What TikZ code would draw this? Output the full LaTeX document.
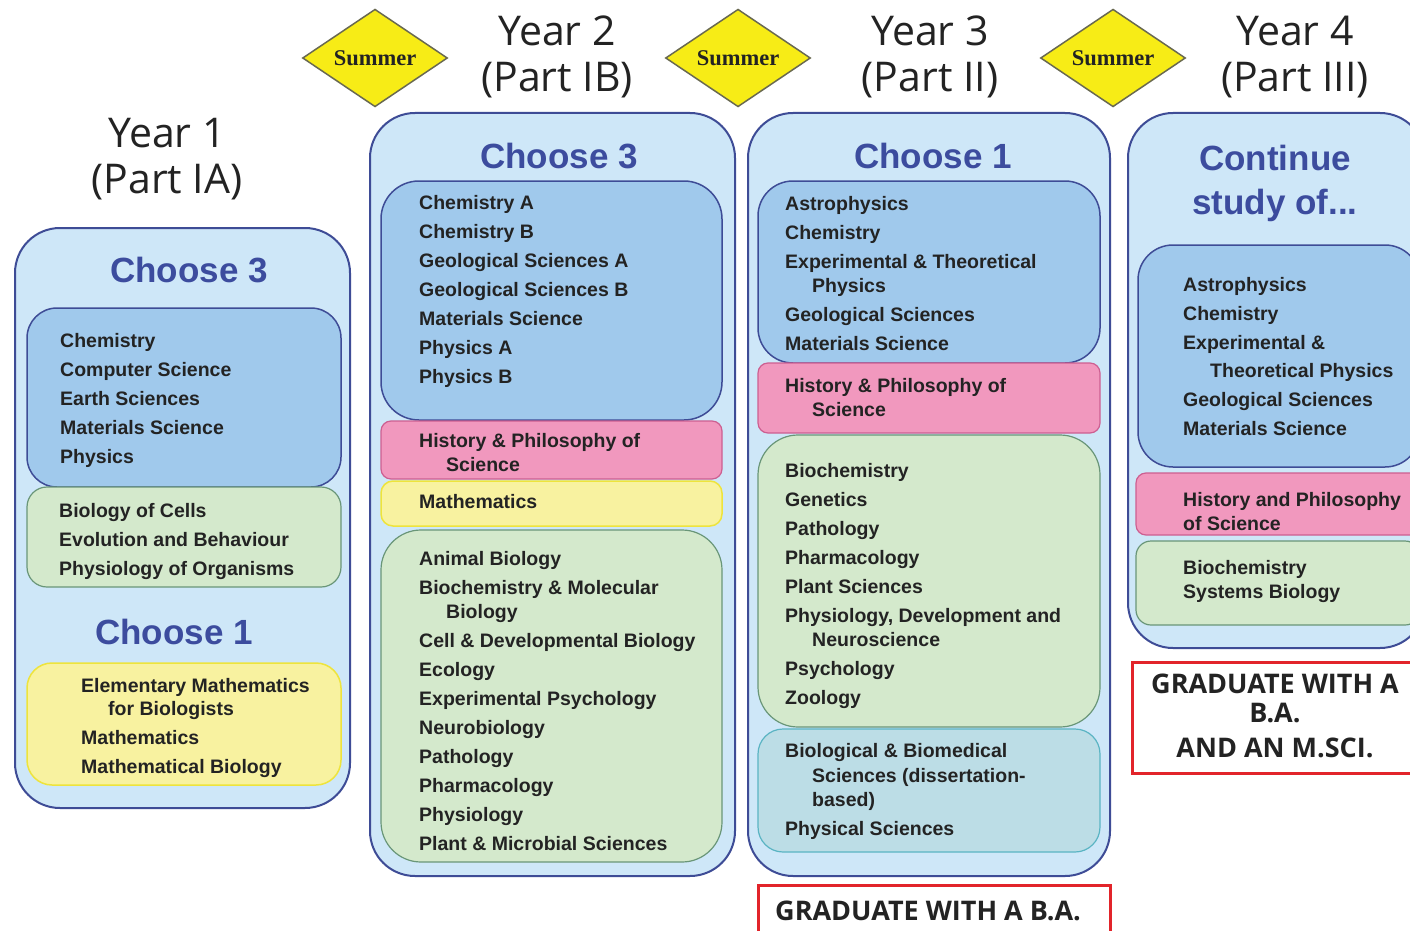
\documentclass[tikz,border=0pt]{standalone}
\usepackage{fontspec}
\setmainfont{Liberation Sans}
\newfontfamily\comicfont{Open Sans}
\newfontfamily\summerfont{Liberation Serif}
\usetikzlibrary{shapes.geometric}
\definecolor{outerfill}{RGB}{206,231,248}
\definecolor{outerline}{RGB}{62,76,150}
\definecolor{bluefill}{RGB}{160,201,236}
\definecolor{greenfill}{RGB}{212,233,204}
\definecolor{greenline}{RGB}{105,150,120}
\definecolor{pinkfill}{RGB}{241,152,190}
\definecolor{pinkline}{RGB}{205,95,145}
\definecolor{yellowfill}{RGB}{248,242,160}
\definecolor{yellowline}{RGB}{238,228,60}
\definecolor{tealfill}{RGB}{188,221,230}
\definecolor{tealline}{RGB}{90,180,195}
\definecolor{summerfill}{RGB}{247,236,22}
\definecolor{summerline}{RGB}{105,105,80}
\definecolor{gradred}{RGB}{226,36,42}
\definecolor{headblue}{RGB}{60,76,158}
\definecolor{txt}{RGB}{35,35,35}
\newcommand{\ind}{\hspace*{27pt}}
\begin{document}
\begin{tikzpicture}[x=1pt,y=-1pt,
  outerbox/.style={draw=outerline, line width=2pt, fill=outerfill, rounded corners=45pt, inner sep=0},
  bluebox/.style={draw=outerline, line width=1.5pt, fill=bluefill, rounded corners=34pt, inner sep=0},
  greenbox/.style={draw=greenline, line width=1.2pt, fill=greenfill, rounded corners=20pt, inner sep=0},
  pinkbox/.style={draw=pinkline, line width=1.2pt, fill=pinkfill, rounded corners=10pt, inner sep=0},
  yellowbox/.style={draw=yellowline, line width=1.5pt, fill=yellowfill, rounded corners=12pt, inner sep=0},
  tealbox/.style={draw=tealline, line width=1.2pt, fill=tealfill, rounded corners=25pt, inner sep=0},
  gradbox/.style={draw=gradred, line width=3pt, fill=white, inner sep=0},
  summer/.style={diamond, draw=summerline, line width=1.5pt, fill=summerfill, inner sep=0,
    minimum width=145, minimum height=96, font=\summerfont\bfseries\fontsize{22.5}{26}\selectfont, text=txt},
  itemlist/.style={anchor=base west, align=left, inner sep=0, font=\bfseries\fontsize{19.5}{29}\selectfont, text=txt},
  heading/.style={anchor=base, align=center, inner sep=0, font=\bfseries\fontsize{35}{44}\selectfont, text=headblue},
  yeartitle/.style={anchor=base, align=center, inner sep=0, font=\comicfont\fontsize{41}{46}\selectfont, text=txt},
  gradtext/.style={inner sep=0, font=\comicfont\bfseries\fontsize{27}{29}\selectfont, text=txt},
]
% note: for multi-line nodes the "base" anchor is the baseline of the LAST line
\useasboundingbox (0,0) rectangle (1410,931);
\clip (0,0) rectangle (1410,931);
\fill[white] (0,0) rectangle (1410,931);

% ---------- Summer diamonds ----------
\node[summer] (s1) at (375,58) {Summer};
\node[summer] (s2) at (738,58) {Summer};
\node[summer] (s3) at (1113,58) {Summer};

% ---------- Year 1 ----------
\node[yeartitle] (t1) at (167,193) {Year 1\\(Part IA)};
\node[outerbox, minimum width=335, minimum height=580] (c1) at (182.5,518) {};
\node[bluebox, rounded corners=30pt, minimum width=314, minimum height=179] (c1b) at (184,397.5) {};
\node[greenbox, minimum width=314, minimum height=100] (c1g) at (184,537) {};
\node[yellowbox, rounded corners=25pt, minimum width=314, minimum height=122] (c1y) at (184,724) {};
\node[heading] (h1a) at (189,282) {Choose 3};
\node[heading] (h1b) at (174,644) {Choose 1};
\node[itemlist] (l1b) at (60,463) {Chemistry\\Computer Science\\Earth Sciences\\Materials Science\\Physics};
\node[itemlist] (l1g) at (59,575) {Biology of Cells\\Evolution and Behaviour\\Physiology of Organisms};
\node[itemlist] (l1y) at (81,773) {Elementary Mathematics\\[-6pt]\ind for Biologists\\Mathematics\\Mathematical Biology};

% ---------- Year 2 ----------
\node[yeartitle] (t2) at (557,92) {Year 2\\(Part IB)};
\node[outerbox, minimum width=365, minimum height=763] (c2) at (552.5,494.5) {};
\node[bluebox, rounded corners=38pt, minimum width=341, minimum height=239] (c2b) at (551.5,300.5) {};
\node[pinkbox, minimum width=341, minimum height=58] (c2p) at (551.5,450) {};
\node[yellowbox, minimum width=341, minimum height=45] (c2y) at (551.5,503.5) {};
\node[greenbox, rounded corners=40pt, minimum width=341, minimum height=332] (c2g) at (551.5,696) {};
\node[heading] (h2) at (559,168.5) {Choose 3};
\node[itemlist] (l2b) at (419,383) {Chemistry A\\Chemistry B\\Geological Sciences A\\Geological Sciences B\\Materials Science\\Physics A\\Physics B};
\node[itemlist] (l2p) at (419,471) {History \& Philosophy of\\[-5pt]\ind Science};
\node[itemlist] (l2y) at (419,508) {Mathematics};
\node[itemlist] (l2g) at (419,850) {Animal Biology\\Biochemistry \& Molecular\\[-5pt]\ind Biology\\Cell \& Developmental Biology\\Ecology\\Experimental Psychology\\Neurobiology\\Pathology\\Pharmacology\\Physiology\\Plant \& Microbial Sciences};

% ---------- Year 3 ----------
\node[yeartitle] (t3) at (930,92) {Year 3\\(Part II)};
\node[outerbox, minimum width=362, minimum height=763] (c3) at (929,494.5) {};
\node[bluebox, rounded corners=35pt, minimum width=342, minimum height=182] (c3b) at (929,272) {};
\node[pinkbox, minimum width=342, minimum height=70] (c3p) at (929,398) {};
\node[greenbox, rounded corners=40pt, minimum width=342, minimum height=292] (c3g) at (929,581) {};
\node[tealbox, minimum width=342, minimum height=123] (c3t) at (929,790.5) {};
\node[heading] (h3) at (933,168.5) {Choose 1};
\node[itemlist] (l3b) at (785,350) {Astrophysics\\Chemistry\\Experimental \& Theoretical\\[-5pt]\ind Physics\\Geological Sciences\\Materials Science};
\node[itemlist] (l3p) at (785,416) {History \& Philosophy of\\[-5pt]\ind Science};
\node[itemlist] (l3g) at (785,704) {Biochemistry\\Genetics\\Pathology\\Pharmacology\\Plant Sciences\\Physiology, Development and\\[-5pt]\ind Neuroscience\\Psychology\\Zoology};
\node[itemlist] (l3t) at (785,835) {Biological \& Biomedical\\[-4pt]\ind Sciences (dissertation-\\[-5pt]\ind based)\\Physical Sciences};
\node[gradbox, minimum width=352, minimum height=55] (g3) at (934,912.5) {};
\node[gradtext, anchor=base west] (g3t) at (775,920) {GRADUATE WITH A B.A.};

% ---------- Year 4 ----------
\node[yeartitle] (t4) at (1295,92) {Year 4\\(Part III)};
\node[outerbox, minimum width=297, minimum height=535] (c4) at (1276.5,380.5) {};
\node[bluebox, rounded corners=35pt, minimum width=282, minimum height=222] (c4b) at (1279,356) {};
\node[pinkbox, minimum width=284, minimum height=62] (c4p) at (1278,504) {};
\node[greenbox, rounded corners=15pt, minimum width=284, minimum height=84] (c4g) at (1278,583) {};
\node[heading] (h4) at (1275,214) {Continue\\study of...};
\node[itemlist] (l4b) at (1183,435) {Astrophysics\\Chemistry\\Experimental \&\\[-1pt]\ind Theoretical Physics\\Geological Sciences\\Materials Science};
\node[itemlist] (l4p) at (1183,530) {History and Philosophy\\[-5pt]of Science};
\node[itemlist] (l4g) at (1183,598) {Biochemistry\\[-5pt]Systems Biology};
\node[gradbox, minimum width=288, minimum height=111] (g4) at (1276,717.5) {};
\node[gradtext, anchor=base, align=center] (g4t) at (1275,757) {GRADUATE WITH A\\B.A.\\[6pt]AND AN M.SCI.};
\end{tikzpicture}
\end{document}
